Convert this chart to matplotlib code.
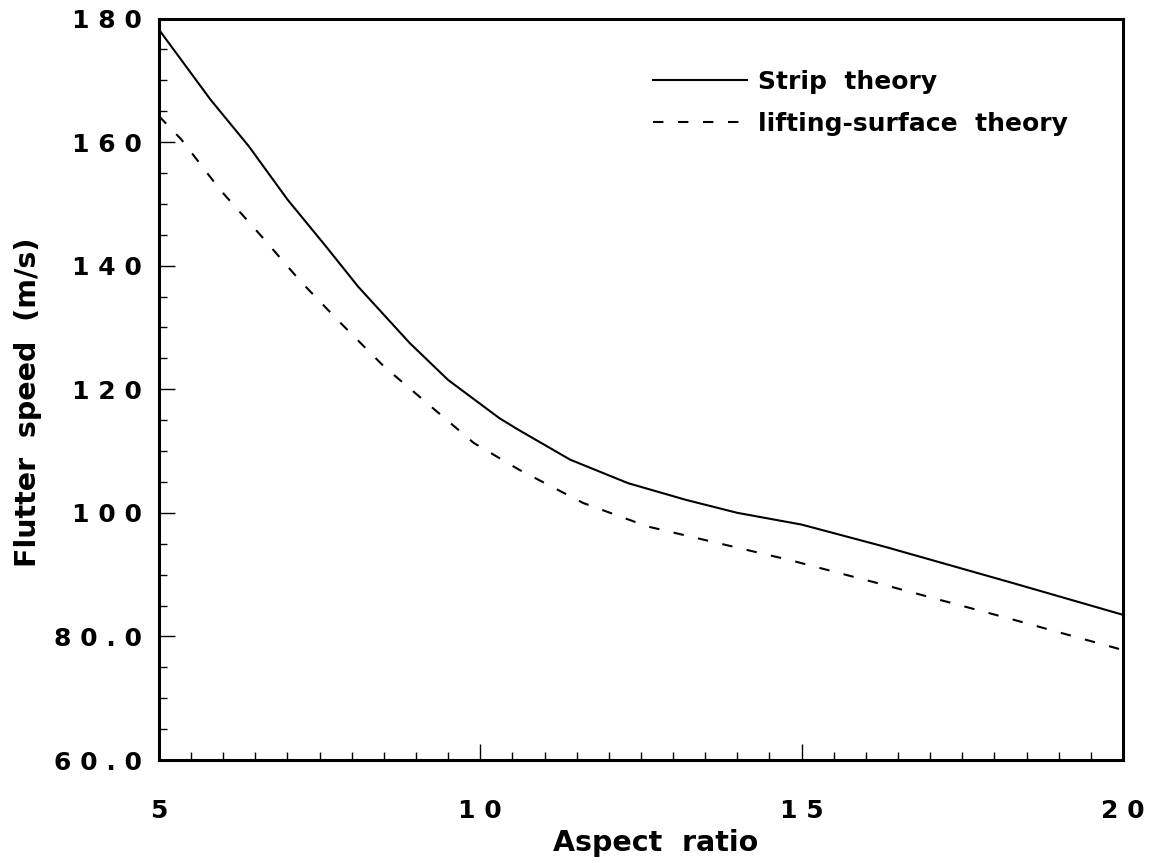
"""Flutter speed vs. aspect ratio: strip theory against lifting-surface theory."""

import matplotlib
matplotlib.use("Agg")
import matplotlib.pyplot as plt
from matplotlib.ticker import FixedLocator, MultipleLocator

# values
strip_ar = [5.0, 5.8, 6.4, 7.0, 7.6, 8.1, 8.9, 9.5, 10.3, 10.6, 11.4, 12.3,
            13.2, 14.0, 15.0, 16.3, 18.3, 20.0]
strip_speed = [178.2, 166.9, 159.3, 150.7, 143.1, 136.6, 127.5, 121.5, 115.3,
               113.4, 108.6, 104.8, 102.1, 100.0, 98.1, 94.5, 88.6, 83.5]

lifting_ar = [5.0, 5.35, 5.95, 6.6, 7.2, 7.8, 8.5, 9.2, 9.9, 10.6, 11.6,
              12.6, 13.7, 14.8, 16.3, 18.3, 20.0]
lifting_speed = [164.2, 160.4, 152.3, 144.7, 137.5, 131.0, 123.7, 117.5,
                 111.3, 107.0, 101.6, 97.8, 95.1, 92.4, 88.3, 82.7, 77.8]

x_ticks = [5, 10, 15, 20]
x_ticklabels = ["5", "1 0", "1 5", "2 0"]
y_ticks = [60, 80, 100, 120, 140, 160, 180]
y_ticklabels = ["6 0 . 0", "8 0 . 0", "1 0 0", "1 2 0", "1 4 0", "1 6 0", "1 8 0"]

plt.rcParams["font.family"] = ["DejaVu Sans"]
plt.rcParams["font.weight"] = "bold"

fig = plt.figure(figsize=(11.68, 8.63), dpi=100)
ax = fig.add_axes([0.1361, 0.11935, 0.8253, 0.8592])

ax.plot(strip_ar, strip_speed, color="k", lw=1.5, label="Strip  theory",
        solid_joinstyle="round")
ax.plot(lifting_ar, lifting_speed, color="k", lw=1.5,
        linestyle=(0, (5.0, 7.0)), label="lifting-surface  theory")

ax.set_xlim(5, 20)
ax.set_ylim(60, 180)

ax.xaxis.set_major_locator(FixedLocator(x_ticks))
ax.xaxis.set_minor_locator(MultipleLocator(0.5))
ax.set_xticklabels(x_ticklabels)
ax.yaxis.set_major_locator(FixedLocator(y_ticks))
ax.yaxis.set_minor_locator(MultipleLocator(5))
ax.set_yticklabels(y_ticklabels)

ax.tick_params(which="both", direction="in", top=False, right=False,
               width=1.0, color="k")
ax.tick_params(which="major", length=11.5, labelsize=18)
ax.tick_params(axis="x", which="major", pad=28)
ax.tick_params(axis="y", which="major", pad=12)
ax.tick_params(which="minor", length=5.8)
for lab in ax.get_xticklabels() + ax.get_yticklabels():
    lab.set_fontweight("bold")

for side in ["left", "right", "top", "bottom"]:
    ax.spines[side].set_linewidth(2.2)

ax.set_xlabel("Aspect  ratio", fontsize=20.5, fontweight="bold")
ax.xaxis.set_label_coords((656 - 159) / 964, (760 - 843) / 741.5)
ax.xaxis.label.set_va("center")

ax.set_ylabel("Flutter  speed  (m/s)", fontsize=20.5, fontweight="bold")
ax.yaxis.set_label_coords((28 - 159) / 964, (760 - 402.5) / 741.5)
ax.yaxis.label.set_va("center")

ax.legend(loc="upper left", bbox_to_anchor=(0.512, 0.9312), frameon=False,
          handlelength=3.76, handletextpad=0.44,
          labelspacing=0.73, borderpad=0, borderaxespad=0,
          prop={"weight": "bold", "size": 18})

fig.savefig("out.png", dpi=100)
